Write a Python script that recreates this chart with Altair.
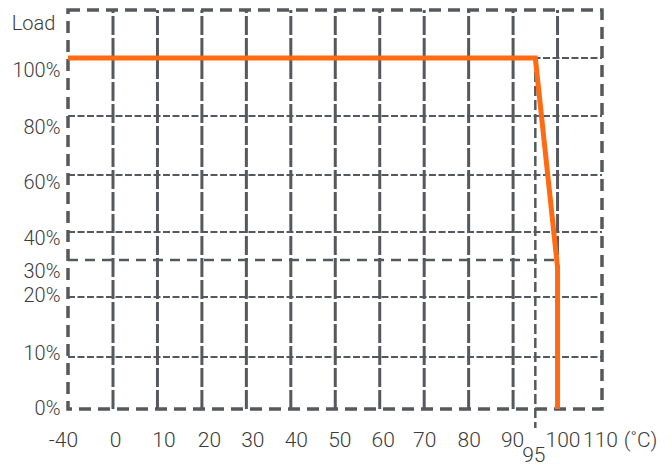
import altair as alt
import pandas as pd

# ---- data ----
X_GRID = [0, 10, 20, 30, 40, 50, 60, 70, 80, 90, 100]      # solid vertical grid
X_DERATE = [95]                                            # dashed vertical marker
Y_GRID_FINE = [10, 20, 40, 60, 80, 100]                    # short-dash horizontal grid
Y_GRID_COARSE = [30]                                       # long-dash horizontal grid
X_LABELS = [-40, 0, 10, 20, 30, 40, 50, 60, 70, 80, 90, 95, 100, 110]
Y_LABELS = [0, 10, 20, 30, 40, 60, 80, 100]
X_EXTENT = [-40, 110]
Y_EXTENT = [0, 116]
CURVE_TEMP = [-40, 95, 100, 100]
CURVE_LOAD = [100, 100, 28, 0]

# ---- styling ----
W, H = 534, 399
GRID = "#55585c"
ORANGE = "#ff6a13"
TEXT = "#3b3b3b"
FONT = "Roboto"

xscale = alt.Scale(type="linear", domain=[-40, 0, 110], range=[0, 45, W], nice=False, zero=False)
yscale = alt.Scale(type="linear", domain=[0, 10, 20, 30, 40, 60, 80, 100, 116],
                   range=[H, 347, 287, 250, 222, 165, 106, 48, 0], nice=False, zero=False)

x_off = {-40: -5, 0: 2, 10: 6, 20: 7, 30: 6, 40: 5, 50: 4, 60: 3, 70: 0, 80: 0,
         90: -1, 95: -2, 100: 5, 110: -2}
y_off = {100: 12, 80: 11, 60: 7, 40: 6, 30: 11, 20: -2, 10: -4, 0: -1}

xaxis = alt.Axis(
    values=X_LABELS, title="(˚C)", grid=False, domain=False, ticks=False, tickSize=0,
    labelFont=FONT, labelFontSize=21, labelFontWeight=300, labelColor=TEXT,
    labelBaseline="middle", labelOverlap=False, labelFlush=False,
    labelExpr="'' + datum.value",
    labelPadding={"condition": {"test": "datum.value == 95", "value": 46}, "value": 31},
    labelOffset={"condition": [{"test": f"datum.value == {k}", "value": v} for k, v in x_off.items()],
                 "value": 0},
    titleX=572, titleY=31, titleAlign="center", titleBaseline="middle",
    titleFont=FONT, titleFontSize=21, titleFontWeight=300, titleColor=TEXT,
)
yaxis = alt.Axis(
    values=Y_LABELS, title="Load", grid=False, domain=False, ticks=False, tickSize=0,
    labelFont=FONT, labelFontSize=20, labelFontWeight=300, labelColor=TEXT,
    labelBaseline="middle", labelAlign="right", labelPadding=8, labelOverlap=False, labelFlush=False,
    labelExpr="datum.value + '%'",
    labelOffset={"condition": [{"test": f"datum.value == {k}", "value": v} for k, v in y_off.items()],
                 "value": 0},
    titleAngle=0, titleX=-35, titleY=13, titleAlign="center", titleBaseline="middle",
    titleFont=FONT, titleFontSize=20, titleFontWeight=300, titleColor=TEXT,
)


def X(field):
    return alt.X(field, type="quantitative", scale=xscale, axis=xaxis)


def Y(field):
    return alt.Y(field, type="quantitative", scale=yscale, axis=yaxis)


vdf = pd.DataFrame({"t": X_GRID, "y0": Y_EXTENT[0], "y1": Y_EXTENT[1]})
vgrid = alt.Chart(vdf).mark_rule(color=GRID, strokeWidth=3, strokeDash=[19, 3]).encode(
    x=X("t"), y=Y("y0"), y2="y1")

ddf = pd.DataFrame({"t": X_DERATE, "y0": [100]})
dline = alt.Chart(ddf).mark_rule(color=GRID, strokeWidth=2.5, strokeDash=[10, 4]).encode(
    x=X("t"), y=Y("y0"), y2=alt.value(H + 19))

hdf = pd.DataFrame({"load": Y_GRID_FINE, "x0": X_EXTENT[0], "x1": X_EXTENT[1]})
hgrid = alt.Chart(hdf).mark_rule(color=GRID, strokeWidth=2.2, strokeDash=[7, 2.5]).encode(
    y=Y("load"), x=X("x0"), x2="x1")

h30 = pd.DataFrame({"load": Y_GRID_COARSE, "x0": X_EXTENT[0], "x1": [100]})
hgrid30 = alt.Chart(h30).mark_rule(color=GRID, strokeWidth=2.5, strokeDash=[10, 7]).encode(
    y=Y("load"), x=X("x0"), x2="x1")

bdf = pd.DataFrame({"x0": [X_EXTENT[0]], "x1": [X_EXTENT[1]], "y0": [Y_EXTENT[0]], "y1": [Y_EXTENT[1]]})
border = alt.Chart(bdf).mark_rect(fillOpacity=0, stroke=GRID, strokeWidth=3.5, strokeDash=[12, 7]).encode(
    x=X("x0"), x2="x1", y=Y("y0"), y2="y1")

cdf = pd.DataFrame({"t": CURVE_TEMP, "load": CURVE_LOAD, "order": range(len(CURVE_TEMP))})
curve = alt.Chart(cdf).mark_line(color=ORANGE, strokeWidth=5, strokeJoin="miter").encode(
    x=X("t"), y=Y("load"), order="order:Q")

chart = alt.layer(vgrid, dline, hgrid, hgrid30, border, curve).properties(
    width=W, height=H,
    autosize=alt.AutoSizeParams(type="none"),
    padding={"left": 60, "top": 2, "right": 56, "bottom": 58},
).configure_view(strokeWidth=0)

chart.save("out.html", embed_options={"renderer": "svg", "actions": False})
